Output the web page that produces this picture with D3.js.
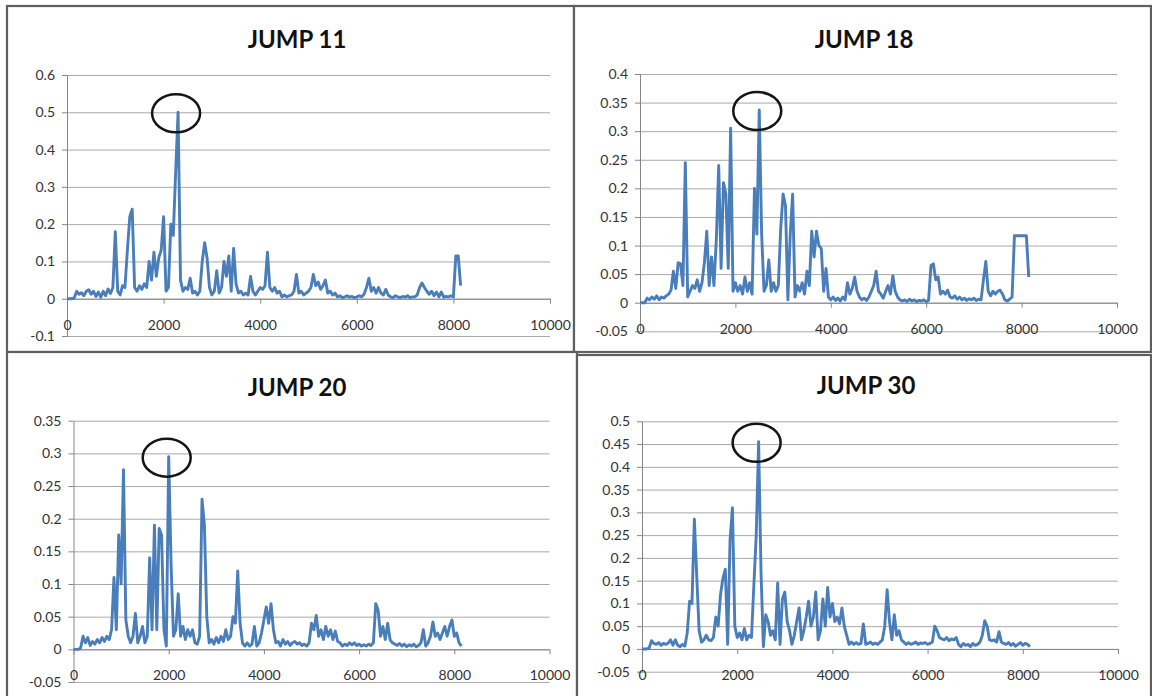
<!DOCTYPE html>
<html>
<head>
<meta charset="utf-8">
<script src="https://cdn.jsdelivr.net/npm/d3@7/dist/d3.min.js"></script>
<style>
  body { margin: 0; background: #fff; }
  svg text { font-family: Lato, "Open Sans", sans-serif; }
</style>
</head>
<body>
<svg id="chart" width="1152" height="696"></svg>
<script>
// sample spacing of the series (x = index * STEP)
const STEP = 50;

const xTicks = [0, 2000, 4000, 6000, 8000, 10000];

const jump11 = [
  0, 0, 0, 0.002, 0.02, 0.012, 0.016, 0.008, 0.02, 0.024,
  0.012, 0.02, 0.006, 0.018, 0.004, 0.02, 0.008, 0.026, 0.014, 0.03,
  0.18, 0.02, 0.01, 0.035, 0.03, 0.13, 0.22, 0.24, 0.03, 0.02,
  0.035, 0.025, 0.04, 0.03, 0.1, 0.05, 0.125, 0.06, 0.11, 0.13,
  0.22, 0.02, 0.03, 0.2, 0.17, 0.34, 0.5, 0.05, 0.02, 0.03,
  0.025, 0.055, 0.015, 0.02, 0.01, 0.02, 0.1, 0.15, 0.11, 0.03,
  0.01, 0.02, 0.075, 0.015, 0.03, 0.1, 0.06, 0.115, 0.02, 0.135,
  0.04, 0.015, 0.02, 0.01, 0.015, 0.01, 0.06, 0.02, 0.01, 0.02,
  0.03, 0.025, 0.035, 0.125, 0.03, 0.02, 0.03, 0.015, 0.02, 0.005,
  0.01, 0.005, 0.008, 0.01, 0.02, 0.065, 0.015, 0.02, 0.01, 0.015,
  0.02, 0.03, 0.065, 0.035, 0.045, 0.025, 0.035, 0.05, 0.015, 0.02,
  0.01, 0.015, 0.005, 0.008, 0.003, 0.005, 0.008, 0.004, 0.006, 0.003,
  0.005, 0.008, 0.005, 0.012, 0.03, 0.055, 0.02, 0.03, 0.015, 0.03,
  0.015, 0.01, 0.025, 0.01, 0.005, 0.003, 0.008, 0.005, 0.003, 0.006,
  0.004, 0.008, 0.003, 0.005, 0.005, 0.01, 0.03, 0.042, 0.03, 0.02,
  0.012, 0.02, 0.008, 0.018, 0.005, 0.018, 0.004, 0.006, 0.005, 0.008,
  0.005, 0.115, 0.115, 0.035
];

const jump18 = [
  0, 0, 0, 0.008, 0.005, 0.01, 0.006, 0.012, 0.005, 0.01,
  0.008, 0.012, 0.015, 0.022, 0.055, 0.025, 0.07, 0.068, 0.03, 0.245,
  0.01, 0.02, 0.03, 0.025, 0.04, 0.02, 0.035, 0.07, 0.125, 0.03,
  0.08, 0.03, 0.11, 0.24, 0.06, 0.21, 0.19, 0.06, 0.305, 0.02,
  0.035, 0.02, 0.03, 0.015, 0.045, 0.02, 0.035, 0.015, 0.2, 0.12,
  0.337, 0.12, 0.02, 0.03, 0.075, 0.02, 0.035, 0.02, 0.03, 0.13,
  0.19, 0.17, 0.005, 0.12, 0.19, 0.01, 0.03, 0.02, 0.035, 0.015,
  0.055, 0.03, 0.125, 0.08, 0.125, 0.1, 0.095, 0.02, 0.06, 0.01,
  0.005, 0.01, 0.004, 0.008, 0.003, 0.01, 0.005, 0.035, 0.015, 0.025,
  0.045, 0.02, 0.01, 0.005, 0.008, 0.004, 0.01, 0.02, 0.03, 0.055,
  0.02, 0.015, 0.008, 0.02, 0.03, 0.015, 0.047, 0.02, 0.01, 0.005,
  0.003, 0.005, 0.002, 0.006, 0.003, 0.005, 0.002, 0.004, 0.003, 0.005,
  0.002, 0.004, 0.065, 0.068, 0.04, 0.045, 0.015, 0.02, 0.015, 0.022,
  0.01, 0.008, 0.012, 0.006, 0.01, 0.005, 0.008, 0.004, 0.007, 0.005,
  0.008, 0.004, 0.006, 0.005, 0.04, 0.072, 0.02, 0.012, 0.02, 0.015,
  0.02, 0.022, 0.015, 0.005, 0.003, 0.006, 0.01, 0.117, 0.117, 0.117,
  0.117, 0.117, 0.117, 0.045
];

const jump20 = [
  0, 0, 0, 0.002, 0.02, 0.01, 0.018, 0.006, 0.012, 0.008,
  0.015, 0.01, 0.018, 0.012, 0.02, 0.015, 0.03, 0.11, 0.03, 0.175,
  0.1, 0.275, 0.045, 0.02, 0.01, 0.02, 0.055, 0.01, 0.02, 0.035,
  0.01, 0.02, 0.14, 0.03, 0.19, 0.03, 0.185, 0.175, 0.03, 0.005,
  0.295, 0.13, 0.02, 0.03, 0.085, 0.02, 0.035, 0.015, 0.03, 0.02,
  0.03, 0.01, 0.008, 0.02, 0.23, 0.19, 0.05, 0.01, 0.015, 0.008,
  0.018, 0.01, 0.02, 0.012, 0.03, 0.015, 0.02, 0.05, 0.04, 0.12,
  0.04, 0.01, 0.005, 0.01, 0.005, 0.008, 0.035, 0.005, 0.01, 0.025,
  0.045, 0.065, 0.04, 0.07, 0.03, 0.01, 0.012, 0.005, 0.015, 0.008,
  0.012, 0.006, 0.01, 0.012, 0.008, 0.01, 0.006, 0.008, 0.005, 0.01,
  0.04, 0.03, 0.052, 0.02, 0.03, 0.015, 0.035, 0.02, 0.03, 0.015,
  0.028, 0.012, 0.01, 0.005, 0.008, 0.006, 0.01, 0.007, 0.01, 0.006,
  0.008, 0.005, 0.007, 0.005, 0.008, 0.006, 0.01, 0.07, 0.06, 0.02,
  0.035, 0.015, 0.04, 0.015, 0.01, 0.008, 0.006, 0.009, 0.005, 0.008,
  0.004, 0.007, 0.005, 0.008, 0.004, 0.006, 0.01, 0.03, 0.005, 0.01,
  0.02, 0.042, 0.02, 0.025, 0.015, 0.025, 0.035, 0.02, 0.035, 0.045,
  0.02, 0.025, 0.01, 0.005
];

const jump30 = [
  0, 0, 0, 0.002, 0.018, 0.012, 0.01, 0.014, 0.008, 0.012,
  0.01, 0.013, 0.02, 0.008, 0.02, 0.008, 0.005, 0.01, 0.006, 0.035,
  0.105, 0.1, 0.285, 0.16, 0.04, 0.015, 0.02, 0.03, 0.02, 0.018,
  0.025, 0.07, 0.05, 0.12, 0.155, 0.175, 0.01, 0.24, 0.31, 0.05,
  0.025, 0.035, 0.02, 0.045, 0.02, 0.03, 0.025, 0.14, 0.25, 0.455,
  0.17, 0.005, 0.075, 0.06, 0.03, 0.04, 0.02, 0.145, 0.01, 0.11,
  0.125, 0.06, 0.04, 0.01, 0.03, 0.06, 0.09, 0.02, 0.04, 0.07,
  0.105, 0.05, 0.07, 0.125, 0.02, 0.04, 0.11, 0.05, 0.135, 0.07,
  0.1, 0.06, 0.07, 0.055, 0.09, 0.05, 0.03, 0.01, 0.015, 0.01,
  0.014, 0.01, 0.012, 0.055, 0.01, 0.012, 0.015, 0.01, 0.013, 0.01,
  0.015, 0.02, 0.05, 0.13, 0.06, 0.02, 0.075, 0.03, 0.04, 0.02,
  0.015, 0.01, 0.014, 0.01, 0.012, 0.015, 0.01, 0.013, 0.012, 0.014,
  0.01, 0.012, 0.015, 0.05, 0.04, 0.025, 0.022, 0.02, 0.025, 0.018,
  0.022, 0.02, 0.025, 0.01, 0.005, 0.012, 0.008, 0.01, 0.005, 0.012,
  0.008, 0.01, 0.015, 0.03, 0.062, 0.05, 0.02, 0.018, 0.02, 0.015,
  0.038, 0.015, 0.012, 0.01, 0.014, 0.008, 0.012, 0.006, 0.01, 0.014,
  0.008, 0.012, 0.01, 0.005
];

const yTicks11 = [-0.1, 0, 0.1, 0.2, 0.3, 0.4, 0.5, 0.6];
const yTicks18 = [-0.05, 0, 0.05, 0.1, 0.15, 0.2, 0.25, 0.3, 0.35, 0.4];
const yTicks20 = [-0.05, 0, 0.05, 0.1, 0.15, 0.2, 0.25, 0.3, 0.35];
const yTicks30 = [-0.05, 0, 0.05, 0.1, 0.15, 0.2, 0.25, 0.3, 0.35, 0.4, 0.45, 0.5];

// layout of the four panels
const panels = [
  { title: "JUMP 11", values: jump11, yTicks: yTicks11,
    box: [7, 6, 574, 352], titleX: 297, titleY: 48,
    left: 67, right: 550, top: 75, bottom: 336 },
  { title: "JUMP 18", values: jump18, yTicks: yTicks18,
    box: [574, 6, 1151, 352], titleX: 864, titleY: 48,
    left: 640, right: 1117, top: 74, bottom: 331.3 },
  { title: "JUMP 20", values: jump20, yTicks: yTicks20,
    box: [7, 352, 577, 700], titleX: 297, titleY: 396,
    left: 73.5, right: 549.5, top: 420.7, bottom: 682 },
  { title: "JUMP 30", values: jump30, yTicks: yTicks30,
    box: [577, 355, 1151, 700], titleX: 866, titleY: 394,
    left: 642, right: 1118, top: 421.3, bottom: 671.7 }
];

const svg = d3.select("#chart");

panels.forEach(p => {
  const g = svg.append("g");

  g.append("rect")
    .attr("x", p.box[0]).attr("y", p.box[1])
    .attr("width", p.box[2] - p.box[0]).attr("height", p.box[3] - p.box[1])
    .attr("fill", "#fff").attr("stroke", "#5f5f5f").attr("stroke-width", 2.2);

  g.append("text")
    .attr("x", p.titleX).attr("y", p.titleY)
    .attr("text-anchor", "middle")
    .attr("font-size", 24).attr("font-weight", 700).attr("fill", "#111")
    .text(p.title);

  const yMin = p.yTicks[0], yMax = p.yTicks[p.yTicks.length - 1];
  const x = d3.scaleLinear().domain([0, 10000]).range([p.left, p.right]);
  const y = d3.scaleLinear().domain([yMin, yMax]).range([p.bottom, p.top]);

  // horizontal gridlines
  g.append("g")
    .attr("transform", `translate(${x(0)},0)`)
    .call(d3.axisLeft(y).tickValues(p.yTicks).tickSizeInner(-(p.right - p.left)).tickSizeOuter(0).tickFormat(""))
    .call(a => a.select(".domain").remove())
    .call(a => a.selectAll("line").attr("stroke", "#a9a9a9"));

  // y axis with labels
  g.append("g")
    .attr("transform", `translate(${x(0)},0)`)
    .call(d3.axisLeft(y).tickValues(p.yTicks).tickSizeInner(5).tickSizeOuter(0).tickPadding(7)
      .tickFormat(d => String(+d.toFixed(2))))
    .call(a => a.select(".domain").attr("stroke", "#868686"))
    .call(a => a.selectAll("line").attr("stroke", "#868686"))
    .call(a => a.selectAll("text").attr("font-size", 14).attr("fill", "#333")
      .style("font-family", "Lato, 'Open Sans', sans-serif"));

  // x axis crossing at zero
  g.append("g")
    .attr("transform", `translate(0,${y(0)})`)
    .call(d3.axisBottom(x).tickValues(xTicks).tickSizeInner(5).tickSizeOuter(0).tickPadding(16)
      .tickFormat(d3.format("d")))
    .call(a => a.select(".domain").attr("stroke", "#868686"))
    .call(a => a.selectAll("line").attr("stroke", "#868686"))
    .call(a => a.selectAll("text").attr("font-size", 14).attr("fill", "#333")
      .style("font-family", "Lato, 'Open Sans', sans-serif"));

  // series line
  const line = d3.line()
    .x((d, i) => x(i * STEP))
    .y(d => y(d));

  g.append("path")
    .datum(p.values)
    .attr("fill", "none")
    .attr("stroke", "#4a7ebb")
    .attr("stroke-width", 2.9)
    .attr("stroke-linejoin", "round")
    .attr("d", line);

  // circle around the highest peak
  const peak = d3.maxIndex(p.values);
  g.append("ellipse")
    .attr("cx", x(peak * STEP) - 2)
    .attr("cy", y(p.values[peak]) + 1)
    .attr("rx", 24).attr("ry", 19)
    .attr("fill", "none").attr("stroke", "#151515").attr("stroke-width", 2.5);
});
</script>
</body>
</html>
